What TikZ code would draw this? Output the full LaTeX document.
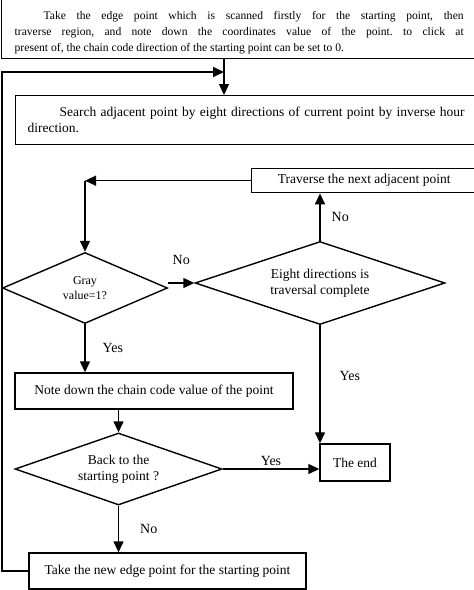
\documentclass[tikz,border=0pt]{standalone}
\usepackage{fontspec}
\setmainfont{Liberation Serif}
\usetikzlibrary{shapes.geometric,arrows.meta,positioning}
\frenchspacing

\begin{document}
\begin{tikzpicture}[x=1pt,y=-1pt,line width=1.4pt,>={Triangle[length=11pt,width=10pt]},
  box/.style={draw,rectangle,inner sep=0pt,align=center,font=\fontsize{13.5}{16}\selectfont},
  test/.style={draw,diamond,shape aspect=2.9,inner sep=0pt,align=center,font=\fontsize{13.5}{16}\selectfont},
  lbl/.style={font=\fontsize{14}{16}\selectfont,inner sep=1pt}]
 \useasboundingbox (0,0) rectangle (474,590);
 \clip (0,0) rectangle (474,590);
 \node[box,anchor=south west,text width=449pt,inner xsep=13pt,inner ysep=4pt,align=justify,
   font=\fontsize{11.6}{16}\selectfont] (start) at (1,59)
   {\rule{0pt}{20pt}\hspace*{29pt}Take the edge point which is scanned firstly for the starting point, then\linebreak
    traverse region, and note down the coordinates value of the point. to click at\linebreak
    present of, the chain code direction of the starting point can be set to 0.};
 \node[box,anchor=north west,text width=437pt,inner xsep=12pt,minimum height=49pt,align=justify] (search) at (15,95)
   {\hspace*{32pt}Search adjacent point by eight directions of current point by inverse hour\linebreak
    direction.};
 \node[box,anchor=north west,minimum width=225pt,minimum height=24pt] (next) at (251,168) {Traverse the next adjacent point};
 \node[test,minimum width=165pt,minimum height=71pt,font=\fontsize{12}{15}\selectfont] (gray) at (85,288) {Gray\\value=1?};
 \node[test,minimum width=250pt,minimum height=83pt] (eight) at (320,283) {Eight directions is\\traversal complete};
 \node[box,minimum width=278pt,minimum height=36pt] (note) at (154,391) {Note down the chain code value of the point};
 \node[test,minimum width=207pt,minimum height=72pt] (back) at (118.5,469) {Back to the\\starting point ?};
 \node[box,minimum width=70pt,minimum height=37pt] (end) at (355,462.5) {The end};
 \node[box,minimum width=277pt,minimum height=36pt] (take) at (167.5,571) {Take the new edge point for the starting point};
 \coordinate (join) at (224,72);
 \coordinate (loop) at (2,72);
 \coordinate (corner) at (next.west -| gray.north);

 \draw[->] (start.south -| join) -- (search.north -| join);
 \draw[->] (take.west) -| (loop) -- (join);
 \draw[->] (next.west) -- (corner);
 \draw[->] (corner) -- (gray.north);
 \path[->]
  (eight.west -| gray.east) edge node[lbl,above=17pt] {No} (eight.west)
  (eight.north) edge node[lbl,right=10pt] {No} (eight.north |- next.south)
  (eight.south) edge node[lbl,right=18pt,pos=0.43] {Yes} (eight.south |- end.north)
  (gray.south) edge node[lbl,right=16pt] {Yes} (gray.south |- note.north)
  (back.north |- note.south) edge (back.north)
  (back.east) edge node[lbl,above=2pt] {Yes} (back.east -| end.west)
  (back.south) edge node[lbl,right=20pt] {No} (back.south |- take.north);
\end{tikzpicture}
\end{document}
